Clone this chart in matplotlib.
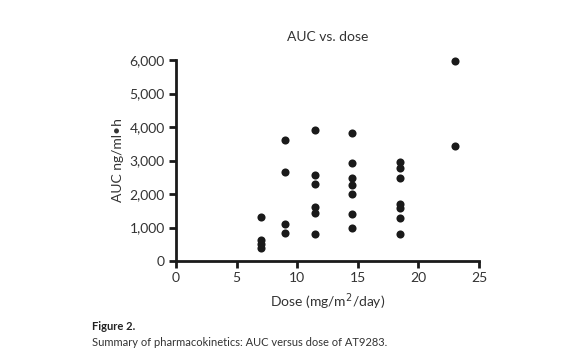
import numpy as np
import matplotlib
matplotlib.use("Agg")
import matplotlib.pyplot as plt

plt.rcParams['font.family'] = ['Lato', 'DejaVu Sans']

# dose levels (mg/m2/day) and AUC readings (ng/ml*h)
dose_7 = [1300, 620, 500, 380]
dose_9 = [3610, 2670, 1100, 830]
dose_11_5 = [3910, 2560, 2290, 1600, 1420, 810]
dose_14_5 = [3830, 2920, 2490, 2260, 2000, 1400, 980]
dose_18_5 = [2965, 2770, 2480, 1700, 1590, 1290, 800]
dose_23 = [5980, 3440]

doses = [7, 9, 11.5, 14.5, 18.5, 23]
aucs = [dose_7, dose_9, dose_11_5, dose_14_5, dose_18_5, dose_23]

x = np.concatenate([[d] * len(a) for d, a in zip(doses, aucs)])
y = np.concatenate(aucs)

W, H = 575, 355
fig = plt.figure(figsize=(W / 100, H / 100), dpi=100)
ax = fig.add_axes([176 / W, 1 - 261 / H, (479 - 176) / W, (261 - 60) / H])

ax.scatter(x, y, s=34, color="#1a1a1a", zorder=3, clip_on=False, linewidths=0)

ax.set_xlim(0, 25)
ax.set_ylim(0, 6000)
ax.set_xticks([0, 5, 10, 15, 20, 25])
ax.set_yticks(np.arange(0, 6001, 1000))
ax.set_yticklabels(["0", "1,000", "2,000", "3,000", "4,000", "5,000", "6,000"])

for s in ["top", "right"]:
    ax.spines[s].set_visible(False)
for s in ["left", "bottom"]:
    ax.spines[s].set_linewidth(2)
    ax.spines[s].set_color("#1a1a1a")
ax.tick_params(width=2, length=5, color="#1a1a1a", labelsize=10,
               labelcolor="#333333", pad=3)

ax.set_xlabel("Dose (mg/m$^2$/day)", fontsize=10, color="#333333", labelpad=5)
ax.set_ylabel("AUC ng/ml\u2022h", fontsize=10, color="#333333", labelpad=4)
ax.set_title("AUC vs. dose", fontsize=10, color="#333333", pad=14)

fig.text(92 / W, 1 - 326 / H, "Figure 2.", fontsize=8, fontweight="bold",
         color="#222222", va="center")
fig.text(92 / W, 1 - 342 / H,
         "Summary of pharmacokinetics: AUC versus dose of AT9283.",
         fontsize=8, color="#333333", va="center")

fig.savefig("out.png", dpi=100)
